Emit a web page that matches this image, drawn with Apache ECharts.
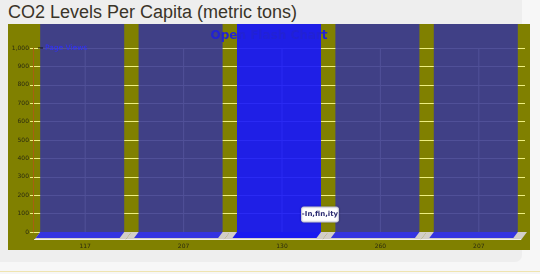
<!DOCTYPE html>
<html>
<head>
<meta charset="utf-8">
<script src="https://cdn.jsdelivr.net/npm/echarts@6/dist/echarts.min.js"></script>
<style>
  html, body { margin: 0; padding: 0; width: 540px; height: 274px; background: #f7f7f7; overflow: hidden; }
  #panel { position: absolute; left: 0; top: 0; width: 522px; height: 262px; background: #eeeeee; border-bottom-right-radius: 7px; }
  #title { position: absolute; left: 8px; top: 3px; font-family: "Liberation Sans", Arial, sans-serif; font-size: 18px; line-height: 18px; color: #3a3428; white-space: nowrap; }
  #chart { position: absolute; left: 8px; top: 24px; width: 522px; height: 226px; }
  #rule { position: absolute; left: 0; top: 271px; width: 540px; height: 1px; background: #efe4b0; }
</style>
</head>
<body>
<div id="panel"></div>
<div id="title">CO2 Levels Per Capita (metric tons)</div>
<div id="chart"></div>
<div id="rule"></div>
<script>
// ---- data ----
const categories = ['117', '207', '130', '260', '207'];
const pageViews = [1130, 1130, 1130, 1130, 1130];   // bars run off the top of the plot
const yMin = 0;
const yMax = 1000;
const yInterval = 100;
const highlightIndex = 2;
const tooltipText = '-In,fin,ity';
const chartTitle = 'Open Flash Chart';
const seriesName = 'Page Views';

// ---- styles ----
const GAP = 0.146;
const barColor = 'rgba(54,54,156,0.86)';
const barHot = 'rgba(20,20,255,0.9)';
const gridColor = '#eeee80';

const chart = echarts.init(document.getElementById('chart'), null, { renderer: 'canvas' });

function fmt(v) { return String(v).replace(/\B(?=(\d{3})+(?!\d))/g, ','); }

const indexData = categories.map((c, i) => [i, 0]);

chart.setOption({
  animation: false,
  backgroundColor: '#808000',
  title: {
    text: chartTitle, left: 'center', top: 1,
    textStyle: { fontFamily: 'DejaVu Sans', fontWeight: 'bold', fontSize: 12, color: '#2222d4' }
  },
  legend: {
    data: [seriesName], left: 25, top: 15, icon: 'rect', itemWidth: 5, itemHeight: 1, itemGap: 2, z: 10,
    textStyle: { fontSize: 7.5, color: '#3030ff', fontFamily: 'DejaVu Sans', padding: [0, 0, 0, -3] },
    itemStyle: { color: '#111' }, selectedMode: false
  },
  grid: { left: 25, right: 5, top: 24, bottom: 18, containLabel: false },
  xAxis: {
    type: 'category', data: categories,
    axisLine: { show: false }, axisTick: { show: false }, splitLine: { show: false },
    axisLabel: { fontSize: 6, color: '#2a2a10', margin: 11, padding: [0, 0, 0, 6], fontFamily: 'DejaVu Sans' }
  },
  yAxis: {
    type: 'value', min: yMin, max: yMax, interval: yInterval,
    axisLine: { show: true, lineStyle: { color: '#a86010', width: 1 } },
    axisTick: { show: true, length: 3, lineStyle: { color: '#eeee80' } },
    axisLabel: { fontSize: 6, color: '#2a2a10', margin: 4, formatter: fmt, fontFamily: 'DejaVu Sans' },
    splitLine: { show: true, lineStyle: { color: gridColor, width: 1 } }
  },
  tooltip: { show: false },
  series: [
    {
      type: 'custom', name: 'vgrid', z: 1, silent: true, data: indexData,
      renderItem: function (params, api) {
        const top = api.coord([api.value(0), yMax]);
        const bot = api.coord([api.value(0), yMin]);
        return { type: 'line', shape: { x1: top[0] + 3, y1: top[1], x2: bot[0] + 3, y2: bot[1] },
                 style: { stroke: gridColor, lineWidth: 1 } };
      }
    },
    {
      type: 'bar', name: seriesName, z: 2, clip: false, silent: true,
      barCategoryGap: (GAP * 100) + '%',
      data: pageViews.map((v, i) => ({ value: v, itemStyle: { color: i === highlightIndex ? barHot : barColor } })),
      emphasis: { disabled: true }
    },
    {
      type: 'custom', name: 'floor', z: 3, silent: true, data: indexData,
      renderItem: function (params, api) {
        const i = api.value(0);
        const p = api.coord([i, 0]);
        const band = api.size([1, 0])[0];
        const bw = band * (1 - GAP);
        const y = p[1], d = 8, s = 6;
        const l = i === 0 ? p[0] - bw / 2 : p[0] - band / 2;
        const r = p[0] + band / 2 + (i === categories.length - 1 ? 2 : 0);
        const children = [
          { type: 'polygon', shape: { points: [[l, y], [r, y], [r - s, y + d], [l - s, y + d]] },
            style: { fill: '#d2cec8' } },
          { type: 'line', shape: { x1: l - s, y1: y + d - 0.5, x2: r - s, y2: y + d - 0.5 },
            style: { stroke: '#f2f0ec', lineWidth: 1 } },
          { type: 'polygon', shape: { points: [[p[0] - bw / 2, y], [p[0] + bw / 2, y], [p[0] + bw / 2 - s * 0.75, y + 6], [p[0] - bw / 2 - s * 0.75, y + 6]] },
            style: { fill: i === highlightIndex ? '#1a1af0' : '#3434e0' } }
        ];
        if (i === highlightIndex) {
          const cx = p[0] + bw / 2 - 1;
          children.push({
            type: 'rect', shape: { x: cx - 18.5, y: y - 25, width: 37, height: 15, r: 2 },
            style: { fill: '#ffffff', stroke: '#c8c8d8', lineWidth: 1, shadowBlur: 2, shadowColor: 'rgba(0,0,0,0.25)' }
          });
          children.push({
            type: 'text', style: { text: tooltipText, x: cx, y: y - 17.5, align: 'center', verticalAlign: 'middle',
              font: 'bold 7px "DejaVu Sans"', fill: '#2a2a70' }
          });
        }
        return { type: 'group', children: children };
      }
    }
  ]
});
</script>
</body>
</html>
